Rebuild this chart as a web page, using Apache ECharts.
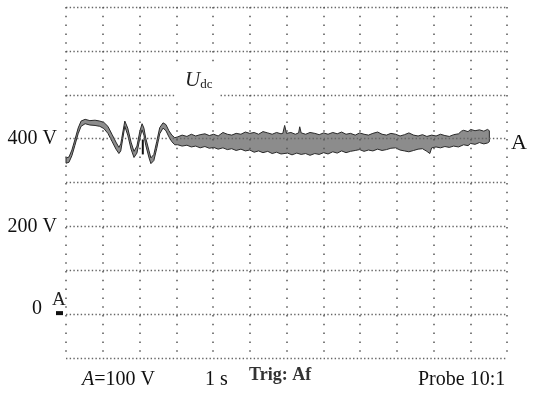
<!DOCTYPE html>
<html>
<head>
<meta charset="utf-8">
<script src="https://cdn.jsdelivr.net/npm/echarts@6/dist/echarts.min.js"></script>
<style>
html, body { margin: 0; padding: 0; background: #fff; }
#main { width: 541px; height: 396px; }
</style>
</head>
<body>
<div id="main"></div>
<script>
// y轴刻度文字（只标 400 V / 200 V / 0）
var yTickLabels = { 400: '400 V', 200: '200 V', 0: '{z|0}' };

// Udc 波形上包络 [时间 s, 电压 V]
var upperEnv = [
    [0, 356], [0.08, 358], [0.16, 374], [0.24, 397], [0.33, 424], [0.41, 440], [0.52, 444], [0.65, 441],
    [0.79, 442], [0.92, 440], [1.03, 437], [1.14, 428], [1.25, 410], [1.36, 392], [1.44, 380], [1.49, 388],
    [1.60, 440], [1.68, 424], [1.77, 392], [1.85, 371], [1.93, 383], [2.01, 417], [2.07, 434], [2.12, 424],
    [2.17, 401], [2.26, 372], [2.31, 356], [2.39, 364], [2.47, 394], [2.55, 425], [2.64, 436], [2.72, 432],
    [2.80, 418], [2.88, 408], [2.96, 402],
    [3.04, 404], [3.16, 408], [3.29, 405], [3.41, 410], [3.53, 406], [3.65, 409], [3.78, 411], [3.90, 407],
    [4.02, 410], [4.14, 406], [4.27, 414], [4.39, 410], [4.51, 408], [4.63, 412], [4.76, 410], [4.88, 415],
    [5.00, 412], [5.12, 414], [5.24, 410], [5.36, 416], [5.49, 413], [5.61, 410], [5.73, 414], [5.85, 411],
    [5.90, 412], [5.95, 430], [6.00, 412], [6.12, 414], [6.24, 410], [6.33, 413], [6.36, 427], [6.40, 413],
    [6.52, 410], [6.64, 414], [6.77, 412], [6.89, 409], [7.01, 413], [7.13, 410], [7.26, 414], [7.38, 411],
    [7.50, 415], [7.62, 410], [7.74, 412], [7.87, 408], [7.99, 413], [8.11, 410], [8.23, 408], [8.35, 412],
    [8.48, 415], [8.60, 410], [8.72, 408], [8.84, 412], [8.97, 410], [9.09, 406], [9.21, 409], [9.33, 413],
    [9.46, 408], [9.58, 406], [9.70, 409], [9.82, 405], [9.95, 408], [10.07, 406], [10.19, 410], [10.31, 407],
    [10.43, 405], [10.55, 409], [10.68, 411], [10.76, 417], [10.82, 419], [10.94, 416], [11.01, 421],
    [11.13, 418], [11.25, 420], [11.37, 417], [11.47, 421], [11.52, 418]
];

// 下包络
var lowerEnv = [
    [0, 344], [0.08, 346], [0.16, 361], [0.24, 384], [0.33, 411], [0.41, 428], [0.52, 434], [0.65, 431],
    [0.79, 430], [0.92, 428], [1.03, 423], [1.14, 412], [1.25, 394], [1.36, 376], [1.44, 366], [1.49, 372],
    [1.60, 428], [1.68, 408], [1.77, 376], [1.85, 357], [1.93, 367], [2.01, 401], [2.07, 420], [2.12, 408],
    [2.17, 385], [2.26, 356], [2.31, 343], [2.39, 350], [2.47, 378], [2.55, 411], [2.64, 424], [2.72, 418],
    [2.80, 404], [2.88, 393], [2.96, 386],
    [3.04, 386], [3.16, 383], [3.29, 385], [3.41, 381], [3.53, 383], [3.65, 379], [3.78, 382], [3.90, 378],
    [4.02, 380], [4.14, 376], [4.27, 379], [4.39, 375], [4.51, 377], [4.63, 373], [4.76, 376], [4.88, 372],
    [5.00, 374], [5.12, 369], [5.24, 372], [5.36, 368], [5.49, 371], [5.61, 366], [5.73, 369], [5.85, 365],
    [6.03, 367], [6.15, 363], [6.28, 367], [6.40, 364], [6.52, 366], [6.64, 362], [6.77, 366], [6.89, 364],
    [7.01, 368], [7.13, 365], [7.26, 370], [7.38, 367], [7.50, 372], [7.62, 368], [7.74, 371], [7.87, 373],
    [7.99, 375], [8.11, 371], [8.23, 374], [8.35, 372], [8.48, 376], [8.60, 373], [8.72, 375], [8.84, 378],
    [8.97, 379], [9.09, 374], [9.21, 372], [9.33, 370], [9.46, 373], [9.58, 376], [9.70, 377], [9.82, 371],
    [9.90, 366], [9.95, 379], [10.07, 381], [10.19, 379], [10.31, 382], [10.43, 380], [10.55, 383],
    [10.68, 381], [10.82, 386], [10.94, 384], [11.01, 389], [11.13, 387], [11.25, 391], [11.37, 388],
    [11.47, 390], [11.52, 393]
];

var serif = 'Liberation Serif';
var myChart = echarts.init(document.getElementById('main'));

var option = {
    animation: false,
    backgroundColor: '#fff',
    grid: { left: 66, right: 34, top: 7, bottom: 38 },
    xAxis: {
        type: 'value', min: 0, max: 12, interval: 1, z: 10,
        axisLine: { show: false }, axisTick: { show: false }, axisLabel: { show: false },
        splitLine: { show: true, lineStyle: { color: '#555', width: 1.5, type: [1.5, 7.3] } }
    },
    yAxis: {
        type: 'value', min: -100, max: 700, interval: 100, z: 10,
        axisLine: { show: false }, axisTick: { show: false },
        axisLabel: {
            margin: 9, fontFamily: serif, fontSize: 20, color: '#111',
            formatter: function (v) { return yTickLabels[v] || ''; },
            rich: { z: { fontFamily: serif, fontSize: 20, color: '#111', padding: [0, 15, 10, 0] } }
        },
        splitLine: { show: true, lineStyle: { color: '#666', width: 1.4, type: [1.4, 2.28] } }
    },
    series: [{
        // 上下包络围成的灰色带
        name: 'Udc',
        type: 'custom',
        data: [0],
        z: 2,
        renderItem: function (params, api) {
            var pts = upperEnv.map(function (d) { return api.coord(d); });
            var low = lowerEnv.map(function (d) { return api.coord(d); }).reverse();
            return {
                type: 'polygon',
                shape: { points: pts.concat(low) },
                style: { fill: '#8c8c8c', stroke: '#2a2a2a', lineWidth: 1, lineJoin: 'round' }
            };
        }
    }]
};
myChart.setOption(option);

// 示波器上的标记和文字
var pA = myChart.convertToPixel({ gridIndex: 0 }, [12, 400]);
var p0 = myChart.convertToPixel({ gridIndex: 0 }, [0, 0]);
var trigTop = myChart.convertToPixel({ gridIndex: 0 }, [2.09, 398]);
var trigBot = myChart.convertToPixel({ gridIndex: 0 }, [2.09, 364]);

myChart.setOption({
    graphic: [
        { type: 'text', z: 20, left: 176, top: 68,
          style: { text: '{u|U}{s|dc}', backgroundColor: '#fff', padding: [0, 7, 6, 9],
                   rich: { u: { fontFamily: serif, fontStyle: 'italic', fontSize: 21, lineHeight: 24, fill: '#222' },
                           s: { fontFamily: serif, fontSize: 13, lineHeight: 24, fill: '#222', padding: [9, 0, 0, 0] } } } },
        { type: 'text', z: 20, x: pA[0] + 4, y: pA[1] + 5,
          style: { text: 'A', font: '22px "Liberation Serif"', fill: '#111', verticalAlign: 'middle' } },
        { type: 'text', z: 20, x: p0[0] - 14, y: p0[1] - 14,
          style: { text: 'A', font: '19px "Liberation Serif"', fill: '#222', verticalAlign: 'middle' } },
        { type: 'rect', z: 20, shape: { x: p0[0] - 10, y: p0[1] - 3, width: 7, height: 4 }, style: { fill: '#111' } },
        { type: 'line', z: 20, shape: { x1: trigTop[0], y1: trigTop[1], x2: trigBot[0], y2: trigBot[1] },
          style: { stroke: '#111', lineWidth: 2 } },
        { type: 'text', z: 20, x: 82, y: 380,
          style: { text: '{i|A}=100 V', verticalAlign: 'middle', font: '20px "Liberation Serif"', fill: '#111',
                   rich: { i: { fontFamily: serif, fontStyle: 'italic', fontSize: 20, fill: '#111' } } } },
        { type: 'text', z: 20, x: 205, y: 380,
          style: { text: '1 s', font: '20px "Liberation Serif"', fill: '#111', verticalAlign: 'middle' } },
        { type: 'text', z: 20, x: 249, y: 375,
          style: { text: 'Trig: Af', font: 'bold 18px "Liberation Serif"', fill: '#333', verticalAlign: 'middle' } },
        { type: 'text', z: 20, x: 418, y: 380,
          style: { text: 'Probe 10:1', font: '20px "Liberation Serif"', fill: '#111', verticalAlign: 'middle' } }
    ]
});
</script>
</body>
</html>
